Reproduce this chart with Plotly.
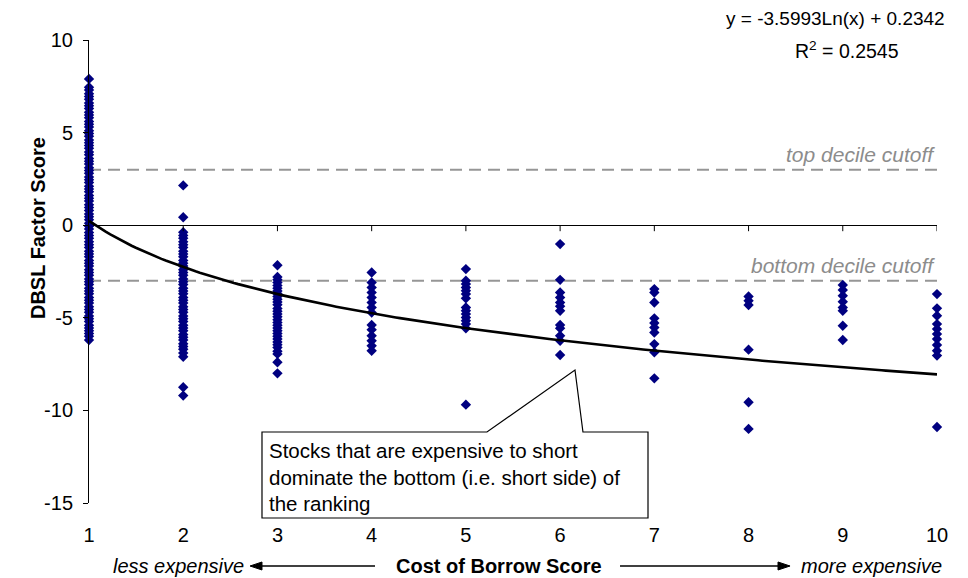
import numpy as np
import plotly.graph_objects as go

# DBSL factor scores grouped by cost-of-borrow score (1 = cheapest, 10 = most expensive)
score_1 = [7.9, 7.45, 7.3, 7.1, 6.95, 6.8, 6.6, 6.45, 6.3, 6.1, 5.95, 5.8, 5.6, 5.45, 5.3,
           5.1, 4.95, 4.8, 4.6, 4.45, 4.3, 4.15, 3.95, 3.8, 3.6, 3.45, 3.3, 3.1, 2.95, 2.8,
           2.6, 2.45, 2.3, 2.1, 1.95, 1.8, 1.6, 1.45, 1.3, 1.1, 0.95, 0.8, 0.6, 0.45, 0.3,
           0.1, -0.05, -0.2, -0.4, -0.55, -0.7, -0.9, -1.05, -1.2, -1.4, -1.55, -1.7, -1.9,
           -2.05, -2.2, -2.4, -2.55, -2.7, -2.9, -3.05, -3.2, -3.4, -3.55, -3.7, -3.9, -4.05,
           -4.2, -4.4, -4.55, -4.7, -4.9, -5.05, -5.2, -5.4, -5.55, -5.7, -5.85, -6.0, -6.2]
score_2 = [2.15, 0.43, -0.38, -0.55, -0.7, -0.9, -1.05, -1.2, -1.4, -1.55, -1.7, -1.9, -2.05,
           -2.2, -2.4, -2.55, -2.7, -2.9, -3.05, -3.2, -3.4, -3.55, -3.7, -3.9, -4.05, -4.2,
           -4.4, -4.55, -4.7, -4.9, -5.05, -5.2, -5.4, -5.55, -5.7, -5.9, -6.05, -6.2, -6.4,
           -6.55, -6.7, -6.9, -7.1, -8.75, -9.2]
score_3 = [-2.16, -2.8, -2.95, -3.1, -3.25, -3.4, -3.55, -3.7, -3.85, -4.0, -4.15, -4.3, -4.5,
           -4.65, -4.8, -4.95, -5.1, -5.25, -5.4, -5.55, -5.7, -5.85, -6.0, -6.15, -6.3, -6.45,
           -6.6, -6.8, -6.95, -7.4, -8.0]
score_4 = [-2.55, -3.09, -3.36, -3.63, -3.9, -4.17, -4.44, -4.71, -5.39, -5.64, -5.97, -6.24,
           -6.51, -6.78]
score_5 = [-2.37, -3.0, -3.18, -3.36, -3.54, -3.72, -3.95, -4.44, -4.62, -4.8, -4.98, -5.16,
           -5.34, -5.57, -9.69]
score_6 = [-1.02, -2.95, -3.63, -3.9, -4.17, -4.38, -4.62, -5.39, -5.57, -5.97, -6.24, -7.01]
score_7 = [-3.45, -3.63, -4.17, -5.03, -5.28, -5.52, -5.79, -6.42, -6.86, -8.27]
score_8 = [-3.85, -4.08, -4.31, -6.72, -9.56, -11.0]
score_9 = [-3.23, -3.5, -3.81, -4.13, -4.44, -4.62, -5.43, -6.2]
score_10 = [-3.72, -4.49, -4.89, -5.34, -5.61, -5.88, -6.15, -6.47, -6.78, -7.04, -10.9]

borrow_scores = [1, 2, 3, 4, 5, 6, 7, 8, 9, 10]
factor_groups = [score_1, score_2, score_3, score_4, score_5,
                 score_6, score_7, score_8, score_9, score_10]

# logarithmic trendline: y = a*ln(x) + b
trend_a = -3.5993
trend_b = 0.2342
r_squared = 0.2545

# decile cutoffs
top_cutoff = 3
bottom_cutoff = -3

y_ticks = [-15, -10, -5, 0, 5, 10]
y_tick_labels = ["-15", "-10", "-5", "0", "5", "10"]

FONT = "Liberation Sans, Arial, sans-serif"
FS = 20

xs, ys = [], []
for s, grp in zip(borrow_scores, factor_groups):
    xs.extend([s] * len(grp))
    ys.extend(grp)

fig = go.Figure()

fig.add_trace(go.Scatter(
    x=xs, y=ys, mode="markers", cliponaxis=False,
    marker=dict(symbol="diamond", size=8, color="#000080", line=dict(width=0)),
    hoverinfo="x+y", showlegend=False,
))

tx = np.linspace(borrow_scores[0], borrow_scores[-1], 200)
ty = trend_a * np.log(tx) + trend_b
fig.add_trace(go.Scatter(
    x=tx, y=ty, mode="lines", line=dict(color="black", width=2.6),
    hoverinfo="skip", showlegend=False,
))

shapes = []
# decile cutoff lines
for c in (top_cutoff, bottom_cutoff):
    shapes.append(dict(type="line", xref="x", yref="y", x0=borrow_scores[0], x1=borrow_scores[-1],
                       y0=c, y1=c, line=dict(color="#969696", width=2, dash="12px,7px"),
                       layer="below"))
# x-axis tick marks along y = 0
for s in borrow_scores:
    shapes.append(dict(type="line", xref="x", yref="y", x0=s, x1=s, ysizemode="pixel",
                       yanchor=0, y0=0, y1=-6, line=dict(color="black", width=1)))
# callout box with pointer
px0, px1, pb0, pb1, pax = 0.2040, 0.6592, 0.4693, 0.5825, 0.5731
py_top, py_bot, pay = 0.1533, -0.0324, 0.2873
path = (f"M{px0},{py_top} L{pb0},{py_top} L{pax},{pay} L{pb1},{py_top} L{px1},{py_top} "
        f"L{px1},{py_bot} L{px0},{py_bot} Z")
shapes.append(dict(type="path", xref="paper", yref="paper", path=path,
                   fillcolor="white", line=dict(color="black", width=1.2), layer="above"))

# arrows either side of the x-axis title
ay_mid, ay_lo, ay_hi = -0.1361, -0.1447, -0.1274
for tip, base, tail in ((0.1899, 0.2040, 0.3373), (0.8267, 0.8125, 0.6262)):
    shapes.append(dict(type="line", xref="paper", yref="paper", x0=tail, x1=base,
                       y0=ay_mid, y1=ay_mid, line=dict(color="black", width=1.5)))
    shapes.append(dict(type="path", xref="paper", yref="paper",
                       path=f"M{tip},{ay_mid} L{base},{ay_hi} L{base},{ay_lo} Z",
                       fillcolor="black", line=dict(color="black", width=1)))

annotations = [
    dict(x=10, y=top_cutoff, xref="x", yref="y", xanchor="right", yanchor="bottom",
         text="<i>top decile cutoff</i>", showarrow=False, yshift=2,
         font=dict(family=FONT, size=21, color="#8c8c8c")),
    dict(x=10, y=bottom_cutoff, xref="x", yref="y", xanchor="right", yanchor="bottom",
         text="<i>bottom decile cutoff</i>", showarrow=False, yshift=2,
         font=dict(family=FONT, size=21, color="#8c8c8c")),
    dict(x=0.880, y=1.0475, xref="paper", yref="paper", xanchor="center", yanchor="middle",
         text=f"y = {trend_a}Ln(x) + {trend_b}", showarrow=False,
         font=dict(family=FONT, size=19, color="black")),
    dict(x=0.894, y=0.978, xref="paper", yref="paper", xanchor="center", yanchor="middle",
         text=f"R<sup>2</sup> = {r_squared}", showarrow=False,
         font=dict(family=FONT, size=19.5, color="black")),
    dict(x=-0.0601, y=0.594, xref="paper", yref="paper", xanchor="center", yanchor="middle",
         text="<b>DBSL Factor Score</b>", textangle=-90, showarrow=False,
         font=dict(family=FONT, size=FS, color="black")),
    dict(x=0.105, y=-0.136, xref="paper", yref="paper", xanchor="center", yanchor="middle",
         text="<i>less expensive</i>", showarrow=False,
         font=dict(family=FONT, size=FS, color="black")),
    dict(x=0.4835, y=-0.136, xref="paper", yref="paper", xanchor="center", yanchor="middle",
         text="<b>Cost of Borrow Score</b>", showarrow=False,
         font=dict(family=FONT, size=FS, color="black")),
    dict(x=0.923, y=-0.136, xref="paper", yref="paper", xanchor="center", yanchor="middle",
         text="<i>more expensive</i>", showarrow=False,
         font=dict(family=FONT, size=FS, color="black")),
    # callout text
    dict(x=0.210, y=0.057, xref="paper", yref="paper", xanchor="left", yanchor="middle",
         align="left", showarrow=False,
         text=("Stocks that are expensive to short<br>"
               "dominate the bottom (i.e. short side) of<br>"
               "the ranking"),
         font=dict(family=FONT, size=20.5, color="black")),
]

fig.update_layout(
    width=968, height=578,
    margin=dict(l=89, r=31, t=40, b=75),
    paper_bgcolor="white", plot_bgcolor="white",
    font=dict(family=FONT, size=FS, color="black"),
    shapes=shapes, annotations=annotations,
    xaxis=dict(range=[1, 10], tickvals=borrow_scores, showgrid=False, zeroline=False,
               showline=False, ticks="", ticklabelstandoff=18,
               tickfont=dict(family=FONT, size=FS, color="black")),
    yaxis=dict(range=[-15, 10], tickvals=y_ticks, ticktext=y_tick_labels, showgrid=False,
               zeroline=True, zerolinecolor="black", zerolinewidth=1, showline=True,
               linecolor="black", linewidth=1, ticks="outside", ticklen=5, tickcolor="black",
               ticklabelstandoff=6, tickfont=dict(family=FONT, size=FS, color="black")),
)

fig.write_html("out.html")
